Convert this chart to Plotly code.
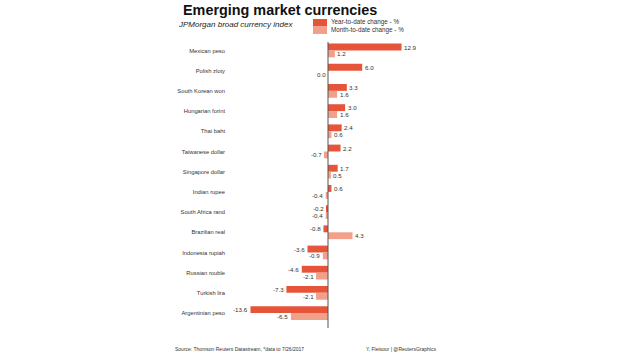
import plotly.graph_objects as go

categories = ["Mexican peso", "Polish zloty", "South Korean won", "Hungarian forint",
              "Thai baht", "Taiwanese dollar", "Singapore dollar", "Indian rupee",
              "South Africa rand", "Brazilian real", "Indonesia rupiah", "Russian rouble",
              "Turkish lira", "Argentinian peso"]
ytd = [12.9, 6.0, 3.3, 3.0, 2.4, 2.2, 1.7, 0.6, -0.2, -0.8, -3.6, -4.6, -7.3, -13.6]
mtd = [1.2, 0.0, 1.6, 1.6, 0.6, -0.7, 0.5, -0.4, -0.4, 4.3, -0.9, -2.1, -2.1, -6.5]

C_YTD = "#e6553a"
C_MTD = "#f2a08a"
FONT = "Liberation Sans"

idx = list(range(len(categories)))
OFF = 0.17
W = 0.34

fig = go.Figure()
fig.add_trace(go.Bar(y=[i - OFF for i in idx], x=ytd, orientation="h", width=W,
                     marker=dict(color=C_YTD, line=dict(width=0)), showlegend=False))
fig.add_trace(go.Bar(y=[i + OFF for i in idx], x=mtd, orientation="h", width=W,
                     marker=dict(color=C_MTD, line=dict(width=0)), showlegend=False))

ann = []
for i, (a, b) in enumerate(zip(ytd, mtd)):
    for v, yy in ((a, i - OFF), (b, i + OFF)):
        ann.append(dict(x=v, y=yy, xref="x", yref="y", text=f"{v:.1f}", showarrow=False,
                        xanchor="left" if v > 0 else "right", xshift=0.5 if v > 0 else -0.5,
                        font=dict(family=FONT, size=6.2, color="#333")))

ann += [
    dict(x=181, y=10, xref="pixel", yref="pixel", text="<b>Emerging market currencies</b>",
         showarrow=False, xanchor="left", yanchor="middle",
         font=dict(family=FONT, size=14.4, color="#111")),
    dict(x=176, y=25, xref="pixel", yref="pixel", text="<i>JPMorgan broad currency index</i>",
         showarrow=False, xanchor="left", yanchor="middle",
         font=dict(family=FONT, size=8, color="#222")),
    dict(x=329, y=22, xref="pixel", yref="pixel", text="Year-to-date change - %",
         showarrow=False, xanchor="left", yanchor="middle",
         font=dict(family=FONT, size=6.3, color="#333")),
    dict(x=329, y=30, xref="pixel", yref="pixel", text="Month-to-date change - %",
         showarrow=False, xanchor="left", yanchor="middle",
         font=dict(family=FONT, size=6.3, color="#333")),
    dict(x=173, y=349, xref="pixel", yref="pixel",
         text="Source: Thomson Reuters Datastream, *data to 7/26/2017",
         showarrow=False, xanchor="left", yanchor="middle",
         font=dict(family=FONT, size=5, color="#333")),
    dict(x=364, y=349, xref="pixel", yref="pixel",
         text="Y. Fleisour | @ReutersGraphics",
         showarrow=False, xanchor="left", yanchor="middle",
         font=dict(family=FONT, size=5, color="#333")),
]
Wfig, Hfig = 620, 354
ml, mr, mt, mb = 226, 200, 42, 28
pw, ph = Wfig - ml - mr, Hfig - mt - mb
for a in ann:
    if a["xref"] == "pixel":
        a["xref"] = "paper"; a["yref"] = "paper"
        a["x"] = (a["x"] - ml) / pw
        a["y"] = (Hfig - mb - a["y"]) / ph

def px(xp, yp):
    return (xp - ml) / pw, (Hfig - mb - yp) / ph

shapes = []
x0, y0 = px(313, 19); x1, y1 = px(327, 26.5)
shapes.append(dict(type="rect", xref="paper", yref="paper", x0=x0, x1=x1, y0=y1, y1=y0,
                   fillcolor=C_YTD, line=dict(width=0)))
x0, y0 = px(313, 26.5); x1, y1 = px(327, 34)
shapes.append(dict(type="rect", xref="paper", yref="paper", x0=x0, x1=x1, y0=y1, y1=y0,
                   fillcolor=C_MTD, line=dict(width=0)))
_, yb = px(0, 328)
shapes.append(dict(type="line", xref="x", yref="paper", x0=0, x1=0, y0=yb, y1=1,
                   line=dict(color="#555", width=1)))

fig.update_layout(
    width=Wfig, height=Hfig, margin=dict(l=ml, r=mr, t=mt, b=mb),
    paper_bgcolor="white", plot_bgcolor="white",
    barmode="overlay", annotations=ann, shapes=shapes,
    font=dict(family=FONT, size=6, color="#333"),
    xaxis=dict(range=[-102 / 5.7, 92 / 5.7], showgrid=False, zeroline=False,
               showticklabels=False, ticks="", showline=False, fixedrange=True),
    yaxis=dict(range=[13.64, -0.42], tickvals=idx, ticktext=categories, showgrid=False,
               zeroline=False, ticks="", showline=False,
               tickfont=dict(family=FONT, size=5.8, color="#333"), fixedrange=True),
)
fig.write_html("out.html")
